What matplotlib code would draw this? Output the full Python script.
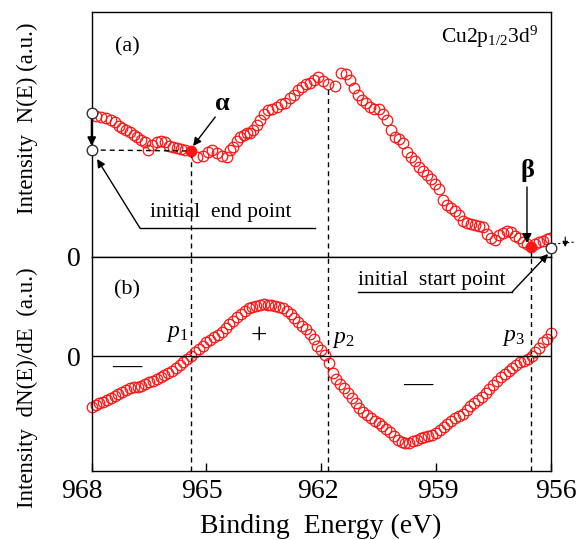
import numpy as np
import matplotlib
matplotlib.use("Agg")
import matplotlib.pyplot as plt
from matplotlib.transforms import ScaledTranslation

plt.rcParams['font.family'] = ['Liberation Serif', 'DejaVu Serif']
plt.rcParams['mathtext.fontset'] = 'custom'
plt.rcParams['mathtext.rm'] = 'Liberation Serif'
plt.rcParams['mathtext.it'] = 'Liberation Serif:italic'
plt.rcParams['mathtext.bf'] = 'Liberation Serif:bold'

# (a) N(E) spectrum
energy_a = [967.89, 967.76, 967.63, 967.50, 967.39, 967.29, 967.21, 967.10, 967.00, 966.89,
            966.82, 966.71, 966.61, 966.53, 966.42, 966.29, 966.19, 966.08, 965.98, 965.87,
            965.77, 965.67, 965.56, 965.41, 965.25, 965.09, 964.96, 964.85, 964.72, 964.59,
            964.46, 964.38, 964.31, 964.20, 964.12, 964.02, 963.94, 963.86, 963.78, 963.68,
            963.60, 963.50, 963.39, 963.29, 963.16, 963.05, 962.95, 962.82, 962.71, 962.61,
            962.50, 962.40, 962.29, 962.19, 962.08, 961.95, 961.82, 961.64, 961.48, 961.35,
            961.25, 961.14, 961.04, 960.93, 960.83, 960.72, 960.62, 960.49, 960.38, 960.28,
            960.18, 960.07, 959.97, 959.86, 959.76, 959.65, 959.55, 959.44, 959.34, 959.23,
            959.13, 959.03, 958.92, 958.82, 958.71, 958.61, 958.50, 958.40, 958.29, 958.19,
            958.08, 957.98, 957.87, 957.77, 957.67, 957.56, 957.46, 957.35, 957.25, 957.14,
            957.04, 956.93, 956.83, 956.72, 956.62, 956.52, 956.41, 956.31, 956.20, 956.10,
            956.03]
intensity_a = [1.41, 1.40, 1.39, 1.37, 1.35, 1.31, 1.29, 1.27, 1.25, 1.22,
               1.20, 1.17, 1.15, 1.07, 1.12, 1.15, 1.16, 1.15, 1.11, 1.10,
               1.09, 1.08, 1.07, 1.06, 1.00, 1.01, 1.05, 1.07, 1.04, 1.01,
               1.00, 1.07, 1.10, 1.16, 1.20, 1.22, 1.24, 1.24, 1.27, 1.32,
               1.37, 1.43, 1.47, 1.48, 1.50, 1.53, 1.54, 1.59, 1.62, 1.67,
               1.70, 1.73, 1.74, 1.77, 1.80, 1.76, 1.73, 1.71, 1.84, 1.83,
               1.77, 1.69, 1.62, 1.57, 1.54, 1.50, 1.48, 1.48, 1.43, 1.37,
               1.27, 1.20, 1.18, 1.14, 1.05, 1.00, 0.96, 0.90, 0.86, 0.82,
               0.78, 0.73, 0.68, 0.57, 0.52, 0.49, 0.46, 0.42, 0.36, 0.34,
               0.33, 0.32, 0.31, 0.30, 0.23, 0.19, 0.17, 0.22, 0.24, 0.26,
               0.25, 0.21, 0.19, 0.15, 0.13, 0.10, 0.13, 0.15, 0.16, 0.18,
               0.19]

# (b) dN(E)/dE
energy_b = [968.0, 967.9, 967.8, 967.7, 967.6, 967.5, 967.4, 967.3, 967.2, 967.1,
            967.0, 966.9, 966.8, 966.7, 966.6, 966.5, 966.4, 966.3, 966.2, 966.1,
            966.0, 965.9, 965.8, 965.7, 965.6, 965.5, 965.4, 965.3, 965.2, 965.1,
            965.0, 964.9, 964.8, 964.7, 964.6, 964.5, 964.4, 964.3, 964.2, 964.1,
            964.0, 963.9, 963.8, 963.7, 963.6, 963.5, 963.4, 963.3, 963.2, 963.1,
            963.0, 962.9, 962.8, 962.7, 962.6, 962.5, 962.4, 962.3, 962.2, 962.1,
            962.0, 961.9, 961.8, 961.7, 961.6, 961.5, 961.4, 961.3, 961.2, 961.1,
            961.0, 960.9, 960.8, 960.7, 960.6, 960.5, 960.4, 960.3, 960.2, 960.1,
            960.0, 959.9, 959.8, 959.7, 959.6, 959.5, 959.4, 959.3, 959.2, 959.1,
            959.0, 958.9, 958.8, 958.7, 958.6, 958.5, 958.4, 958.3, 958.2, 958.1,
            958.0, 957.9, 957.8, 957.7, 957.6, 957.5, 957.4, 957.3, 957.2, 957.1,
            957.0, 956.9, 956.8, 956.7, 956.6, 956.5, 956.4, 956.3, 956.2, 956.1,
            956.0]
deriv_b = [-0.51, -0.49, -0.47, -0.455, -0.435, -0.42, -0.40, -0.38, -0.36, -0.34,
           -0.32, -0.31, -0.305, -0.295, -0.28, -0.26, -0.245, -0.225, -0.21, -0.19,
           -0.17, -0.145, -0.12, -0.085, -0.055, -0.025, 0.0, 0.04, 0.07, 0.105,
           0.14, 0.16, 0.19, 0.215, 0.245, 0.28, 0.325, 0.355, 0.39, 0.425,
           0.45, 0.48, 0.495, 0.505, 0.515, 0.52, 0.515, 0.51, 0.50, 0.49,
           0.48, 0.455, 0.425, 0.385, 0.34, 0.305, 0.27, 0.225, 0.17, 0.105,
           0.06, 0.01, -0.07, -0.165, -0.23, -0.275, -0.32, -0.37, -0.42, -0.47,
           -0.515, -0.555, -0.59, -0.62, -0.65, -0.67, -0.695, -0.725, -0.76, -0.80,
           -0.84, -0.855, -0.865, -0.865, -0.85, -0.835, -0.82, -0.81, -0.80, -0.79,
           -0.765, -0.74, -0.71, -0.675, -0.645, -0.62, -0.60, -0.575, -0.54, -0.495,
           -0.465, -0.44, -0.41, -0.365, -0.325, -0.29, -0.25, -0.21, -0.18, -0.15,
           -0.12, -0.085, -0.06, -0.045, -0.025, 0.0, 0.045, 0.085, 0.14, 0.175,
           0.23]

# special points
e_alpha, n_alpha = 965.41, 1.06
e_beta, n_beta = 956.52, 0.10
end_e, end_n = [968.0, 968.0], [1.44, 1.07]
start_e, start_n = 956.0, 0.09
p_energy = [965.41, 961.83, 956.52]
p_top = [n_alpha, 1.69, n_beta]
p_names = [r'$\mathit{p}_{\mathit{1}}$', r'$\mathit{p}_{\mathit{2}}$', r'$\mathit{p}_{\mathit{3}}$']
p_text_pos = [(965.77, 0.23), (961.43, 0.16), (956.98, 0.19)]
xticks = [968, 965, 962, 959, 956]
xlabel_shift = [-7, -3.5, -2, 1.5, 3.5]   # points, labels sit a bit spread out in the original

dash = (0, (3.6, 2.9))
red = '#ff1414'

fig = plt.figure(figsize=(5.78, 5.40), dpi=100)
ax1 = fig.add_axes([91.7/578, 1-257/540, 459/578, 245/540])
ax2 = fig.add_axes([91.7/578, 1-471/540, 459/578, 214/540])

for ax in (ax1, ax2):
    ax.set_xlim(968, 956)
    for s in ax.spines.values():
        s.set_linewidth(1.0)

ax1.set_ylim(0, 2.45)
ax2.set_ylim(-1.15, 0.99)

# (a)
ax1.plot(energy_a, intensity_a, 'o', mfc='none', mec=red, ms=7.6, mew=0.9)
ax1.plot([e_alpha, e_beta], [n_alpha, n_beta], 'o', color=red, ms=6.5, zorder=4)
ax1.plot(end_e, end_n, 'o', mfc='white', mec='#333333', ms=7.6, mew=1.0, clip_on=False, zorder=5)
ax1.plot(start_e, start_n, 'o', mfc='white', mec='#333333', ms=7.6, mew=1.0, clip_on=False, zorder=5)
ax1.annotate('', xy=(968, 1.11), xytext=(968, 1.38),
             arrowprops=dict(arrowstyle='-|>', color='k', lw=1.4, mutation_scale=12, shrinkA=0, shrinkB=0),
             annotation_clip=False)
ax1.plot([968, e_alpha], [end_n[1], n_alpha], color='k', ls=dash, lw=1)
for e, top in zip(p_energy, p_top):
    ax1.plot([e, e], [0, top], color='k', ls=dash, lw=1)
    ax2.axvline(e, color='k', ls=dash, lw=1)

ax1.text(964.59, 1.53, 'α', fontsize=19, fontweight='bold', ha='center', va='center')
ax1.annotate('', xy=(965.35, 1.11), xytext=(964.77, 1.40),
             arrowprops=dict(arrowstyle='-|>', color='k', lw=1, mutation_scale=12, shrinkA=0, shrinkB=0))
ax1.text(956.62, 0.87, 'β', fontsize=19, fontweight='bold', ha='center', va='center')
ax1.annotate('', xy=(956.62, 0.14), xytext=(956.62, 0.70),
             arrowprops=dict(arrowstyle='-|>', color='k', lw=1, mutation_scale=14, shrinkA=0, shrinkB=0))

ax1.text(966.47, 0.40, 'initial  end point', fontsize=15.5, ha='left', va='baseline')
ax1.plot([966.74, 962.16], [0.29, 0.29], color='k', lw=1)
ax1.annotate('', xy=(967.86, 0.98), xytext=(966.74, 0.29),
             arrowprops=dict(arrowstyle='-|>', color='k', lw=1, mutation_scale=12, shrinkA=0, shrinkB=0),
             annotation_clip=False)

# small clipped marker beyond the right edge
ax1.plot([955.92, 955.35], [0.13, 0.15], color='k', ls=(0, (2, 2)), lw=0.8, clip_on=False)
ax1.annotate('', xy=(955.62, 0.10), xytext=(955.62, 0.20),
             arrowprops=dict(arrowstyle='-|>', color='k', lw=0.8, mutation_scale=8, shrinkA=0, shrinkB=0),
             annotation_clip=False)

ax1.text(967.08, 2.10, '(a)', fontsize=16, ha='center', va='center')
ax1.text(957.59, 2.20, r'Cu2p$_{1/2}$3d$^{9}$', fontsize=15.5, ha='center', va='center')

ax1.set_xticks([])
ax1.set_yticks([0])
ax1.set_yticklabels(['0'])
ax1.tick_params(axis='y', length=0, pad=8, labelsize=20)

# (b)
ax2.plot(energy_b, deriv_b, 'o', mfc='none', mec=red, ms=7.6, mew=0.9, clip_on=False)
ax2.axhline(0, color='k', lw=1)
for name, (tx, ty) in zip(p_names, p_text_pos):
    ax2.text(tx, ty, name, fontsize=17, ha='center', va='center')
ax2.text(963.63, 0.20, '+', fontsize=21, ha='center', va='center')
ax2.text(967.08, -0.12, '—', fontsize=21, ha='center', va='center')
ax2.text(959.47, -0.30, '—', fontsize=21, ha='center', va='center')
ax2.text(967.08, 0.66, '(b)', fontsize=16, ha='center', va='center')

ax2.text(961.04, 0.71, 'initial  start point', fontsize=15.5, ha='left', va='baseline')
ax2.plot([961.04, 957.01], [0.64, 0.64], color='k', lw=1)
ax2.annotate('', xy=(956.07, 0.03), xycoords=ax1.transData, xytext=(957.01, 0.64), textcoords='data',
             arrowprops=dict(arrowstyle='-|>', color='k', lw=1, mutation_scale=12, shrinkA=0, shrinkB=0),
             annotation_clip=False)

ax2.set_xticks(xticks)
ax2.set_xticklabels([str(t) for t in xticks])
ax2.set_yticks([0])
ax2.set_yticklabels(['0'])
ax2.tick_params(axis='x', direction='in', length=6, width=1, pad=5.5, labelsize=20, top=False)
ax2.tick_params(axis='y', length=0, pad=8, labelsize=20)
for lab, dx in zip(ax2.get_xticklabels(), xlabel_shift):
    lab.set_transform(lab.get_transform() + ScaledTranslation(dx/72, 0, fig.dpi_scale_trans))

fig.text(321/578, 1-533/540, 'Binding  Energy (eV)', fontsize=20, ha='center', va='baseline')
fig.text(27/578, 1-118/540, 'Intensity  N(E) (a.u.)', fontsize=16.5, rotation=90, ha='center', va='center')
fig.text(27/578, 1-388/540, 'Intensity  dN(E)/dE  (a.u.)', fontsize=16.5, rotation=90, ha='center', va='center')

fig.savefig('out.png', dpi=100)
